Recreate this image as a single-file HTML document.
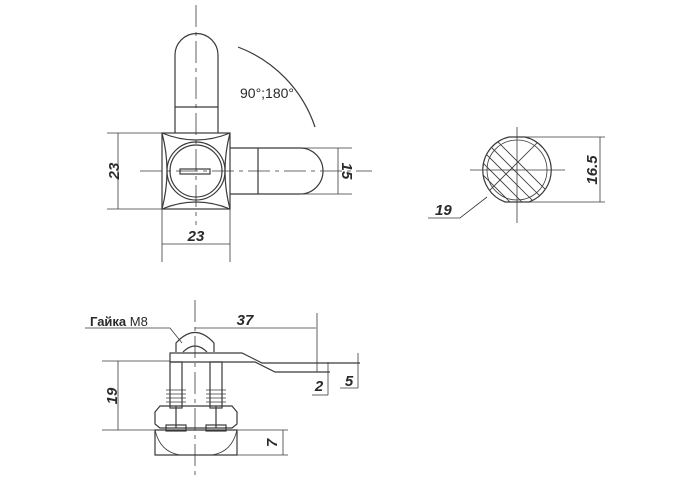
<!DOCTYPE html>
<html><head><meta charset="utf-8"><style>
html,body{margin:0;padding:0;background:#fff;width:697px;height:493px;overflow:hidden}
text{font-family:"Liberation Sans",sans-serif;fill:#2a2a2a}
</style></head><body>
<svg width="697" height="493" viewBox="0 0 697 493" xmlns="http://www.w3.org/2000/svg">
<defs>
<clipPath id="cc"><path d="M509,137 L525,137 A34,34 0 0 1 529,202 L505,202 A34,34 0 0 1 509,137 Z"/></clipPath>
</defs>
<g fill="none" stroke="#3a3a3a" stroke-width="1.2">
<!-- top view -->
<path d="M175,133 L175,55 A21.5,21.5 0 0 1 218,55 L218,133"/>
<line x1="175" y1="107" x2="218" y2="107"/>
<rect x="162" y="133" width="68" height="76"/>
<path d="M162,133 Q196,147 230,133 M162,209 Q196,195 230,209 M162,133 Q172,171 162,209 M230,133 Q220,171 230,209"/>
<circle cx="196" cy="171" r="29"/>
<circle cx="196" cy="171" r="26"/>
<rect x="180" y="169" width="30" height="5"/>
<path d="M230,148 L300,148 A23,23 0 0 1 300,194 L230,194"/>
<line x1="258" y1="148" x2="258" y2="194"/>
<path d="M238,47 A129,129 0 0 1 315,127"/>
<!-- dims top -->
<line x1="107" y1="133" x2="162" y2="133" stroke-width="0.8"/>
<line x1="107" y1="209" x2="162" y2="209" stroke-width="0.8"/>
<line x1="118" y1="133" x2="118" y2="209" stroke-width="0.8"/>
<line x1="162" y1="209" x2="162" y2="262" stroke-width="0.8"/>
<line x1="230" y1="209" x2="230" y2="262" stroke-width="0.8"/>
<line x1="162" y1="244" x2="230" y2="244" stroke-width="0.8"/>
<line x1="300" y1="148" x2="352" y2="148" stroke-width="0.8"/>
<line x1="300" y1="194" x2="352" y2="194" stroke-width="0.8"/>
<line x1="338" y1="148" x2="338" y2="194" stroke-width="0.8"/>
<g stroke-width="0.8" stroke-dasharray="22,5,4,5">
<line x1="196" y1="5" x2="196" y2="225"/>
<line x1="140" y1="171" x2="372" y2="171"/>
</g>
<!-- cross section -->
<g clip-path="url(#cc)" stroke-width="0.8">
<path d="M440,120 L560,240 M452,120 L572,240 M464,120 L584,240 M476,120 L596,240 M428,120 L548,240 M416,120 L536,240 M404,120 L524,240 M392,120 L512,240 M380,120 L500,240"/>
<path d="M560,120 L440,240"/>
</g>
<path d="M509,137 L525,137 A34,34 0 0 1 529,202 L505,202 A34,34 0 0 1 509,137 Z"/>
<circle cx="517" cy="170" r="30" stroke-width="0.8"/>
<line x1="470" y1="170" x2="565" y2="170" stroke-width="0.8"/>
<line x1="517" y1="127" x2="517" y2="223" stroke-width="0.8"/>
<line x1="525" y1="137" x2="605" y2="137" stroke-width="0.8"/>
<line x1="529" y1="202" x2="605" y2="202" stroke-width="0.8"/>
<line x1="600" y1="137" x2="600" y2="202" stroke-width="0.8"/>
<polyline points="487,197 460,218 428,218" stroke-width="0.8"/>
<!-- side view -->
<line x1="195" y1="300" x2="195" y2="480" stroke-width="0.8" stroke-dasharray="22,5,4,5"/>
<polyline points="85,328 170,328 182,343" stroke-width="0.8"/>
<path d="M176,352 L176,343 Q195,322 214,343 L214,352"/>
<path d="M183,352 Q195,340 207,352"/>
<path d="M170,362 L170,353 L242,353 L262,363 L360,363 M170,362 L255,362 L275,372 L330,372"/>
<line x1="195" y1="328" x2="316" y2="328" stroke-width="0.8"/>
<line x1="317" y1="313" x2="317" y2="372" stroke-width="0.8"/>
<line x1="328" y1="362" x2="328" y2="395" stroke-width="0.8"/>
<line x1="312" y1="395" x2="328" y2="395" stroke-width="0.8"/>
<line x1="340" y1="388" x2="358" y2="388" stroke-width="0.8"/>
<line x1="358" y1="353" x2="358" y2="388" stroke-width="0.8"/>
<rect x="170" y="362" width="12" height="46"/>
<rect x="210" y="362" width="12" height="46"/>
<path d="M166,390 H186 M166,394 H186 M166,398 H186 M166,402 H186 M206,390 H226 M206,394 H226 M206,398 H226 M206,402 H226" stroke-width="0.8"/>
<path d="M155,412 L160,406 L232,406 L237,412 L237,424 L232,428 L160,428 L155,424 Z"/>
<line x1="176" y1="406" x2="176" y2="428"/><line x1="216" y1="406" x2="216" y2="428"/>
<rect x="166" y="425" width="20" height="6"/><rect x="206" y="425" width="20" height="6"/>
<path d="M155,430 L237,430 L237,455 L155,455 Z"/>
<path d="M155,430 Q160,452 180,455 M237,430 Q232,452 212,455" stroke-width="0.8"/>
<line x1="102" y1="361" x2="170" y2="361" stroke-width="0.8"/>
<line x1="102" y1="430" x2="288" y2="430" stroke-width="0.8"/>
<line x1="118" y1="361" x2="118" y2="430" stroke-width="0.8"/>
<line x1="237" y1="455" x2="288" y2="455" stroke-width="0.8"/>
<line x1="283" y1="430" x2="283" y2="455" stroke-width="0.8"/>
</g>
<g font-weight="bold" font-style="italic" font-size="15">
<text x="114" y="171" text-anchor="middle" transform="rotate(-90 114 171)" dy="5">23</text>
<text x="196" y="241" text-anchor="middle">23</text>
<text x="347" y="171" text-anchor="middle" transform="rotate(90 347 171)" dy="5">15</text>
<text x="592" y="170" text-anchor="middle" transform="rotate(-90 592 170)" dy="5">16.5</text>
<text x="435" y="215">19</text>
<text x="245" y="325" text-anchor="middle">37</text>
<text x="112" y="396" text-anchor="middle" transform="rotate(-90 112 396)" dy="5">19</text>
<text x="319" y="391" text-anchor="middle">2</text>
<text x="349" y="386" text-anchor="middle">5</text>
<text x="272" y="443" text-anchor="middle" transform="rotate(-90 272 443)" dy="5">7</text>
</g>
<text x="240" y="98" font-size="14">90°;180°</text>
<text x="90" y="326" font-size="13" font-weight="bold">Гайка <tspan font-weight="normal">M8</tspan></text>
</svg>
</body></html>
